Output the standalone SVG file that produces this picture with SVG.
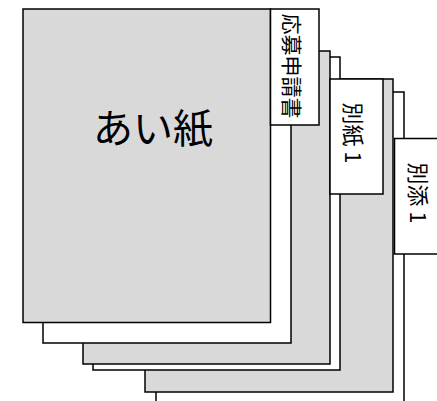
<svg xmlns="http://www.w3.org/2000/svg" width="437" height="401" viewBox="0 0 437 401">
<style>
.w{fill:#ffffff;stroke:#000;stroke-width:1.5}
.g{fill:#d9d9d9;stroke:#000;stroke-width:1.5}
.t{font-family:"Noto Sans CJK JP","Noto Sans",sans-serif;fill:#000;text-anchor:middle;dominant-baseline:central}
</style>
<g id="sheet6"><rect class="w" x="156" y="92" width="248" height="320"/></g>
<g id="sheet5"><rect class="g" x="145" y="79" width="248" height="313"/></g>
<g id="tab-betten1"><rect class="w" x="394.5" y="138.5" width="54" height="115.5"/><text class="t" font-size="22" transform="translate(420,193) rotate(90)">別添 1</text></g>
<g id="sheet4"><rect class="w" x="93" y="57" width="247" height="313"/></g>
<g id="sheet3"><rect class="g" x="83" y="51" width="247" height="313"/></g>
<g id="tab-besshi1"><rect class="w" x="330" y="79" width="53" height="115"/><text class="t" font-size="22" transform="translate(355,133) rotate(90)">別紙 1</text></g>
<g id="sheet2"><rect class="w" x="43" y="30" width="248" height="313"/></g>
<g id="aishi"><rect class="g" x="23" y="9" width="247.5" height="313.5"/><text class="t" font-size="40" x="153" y="126">あい紙</text></g>
<g id="tab-oubo"><rect class="w" x="270.5" y="9" width="48.5" height="116"/><text class="t" font-size="21" transform="translate(293,66) rotate(90)">応募申請書</text></g>
<g id="connectors"/>
</svg>
